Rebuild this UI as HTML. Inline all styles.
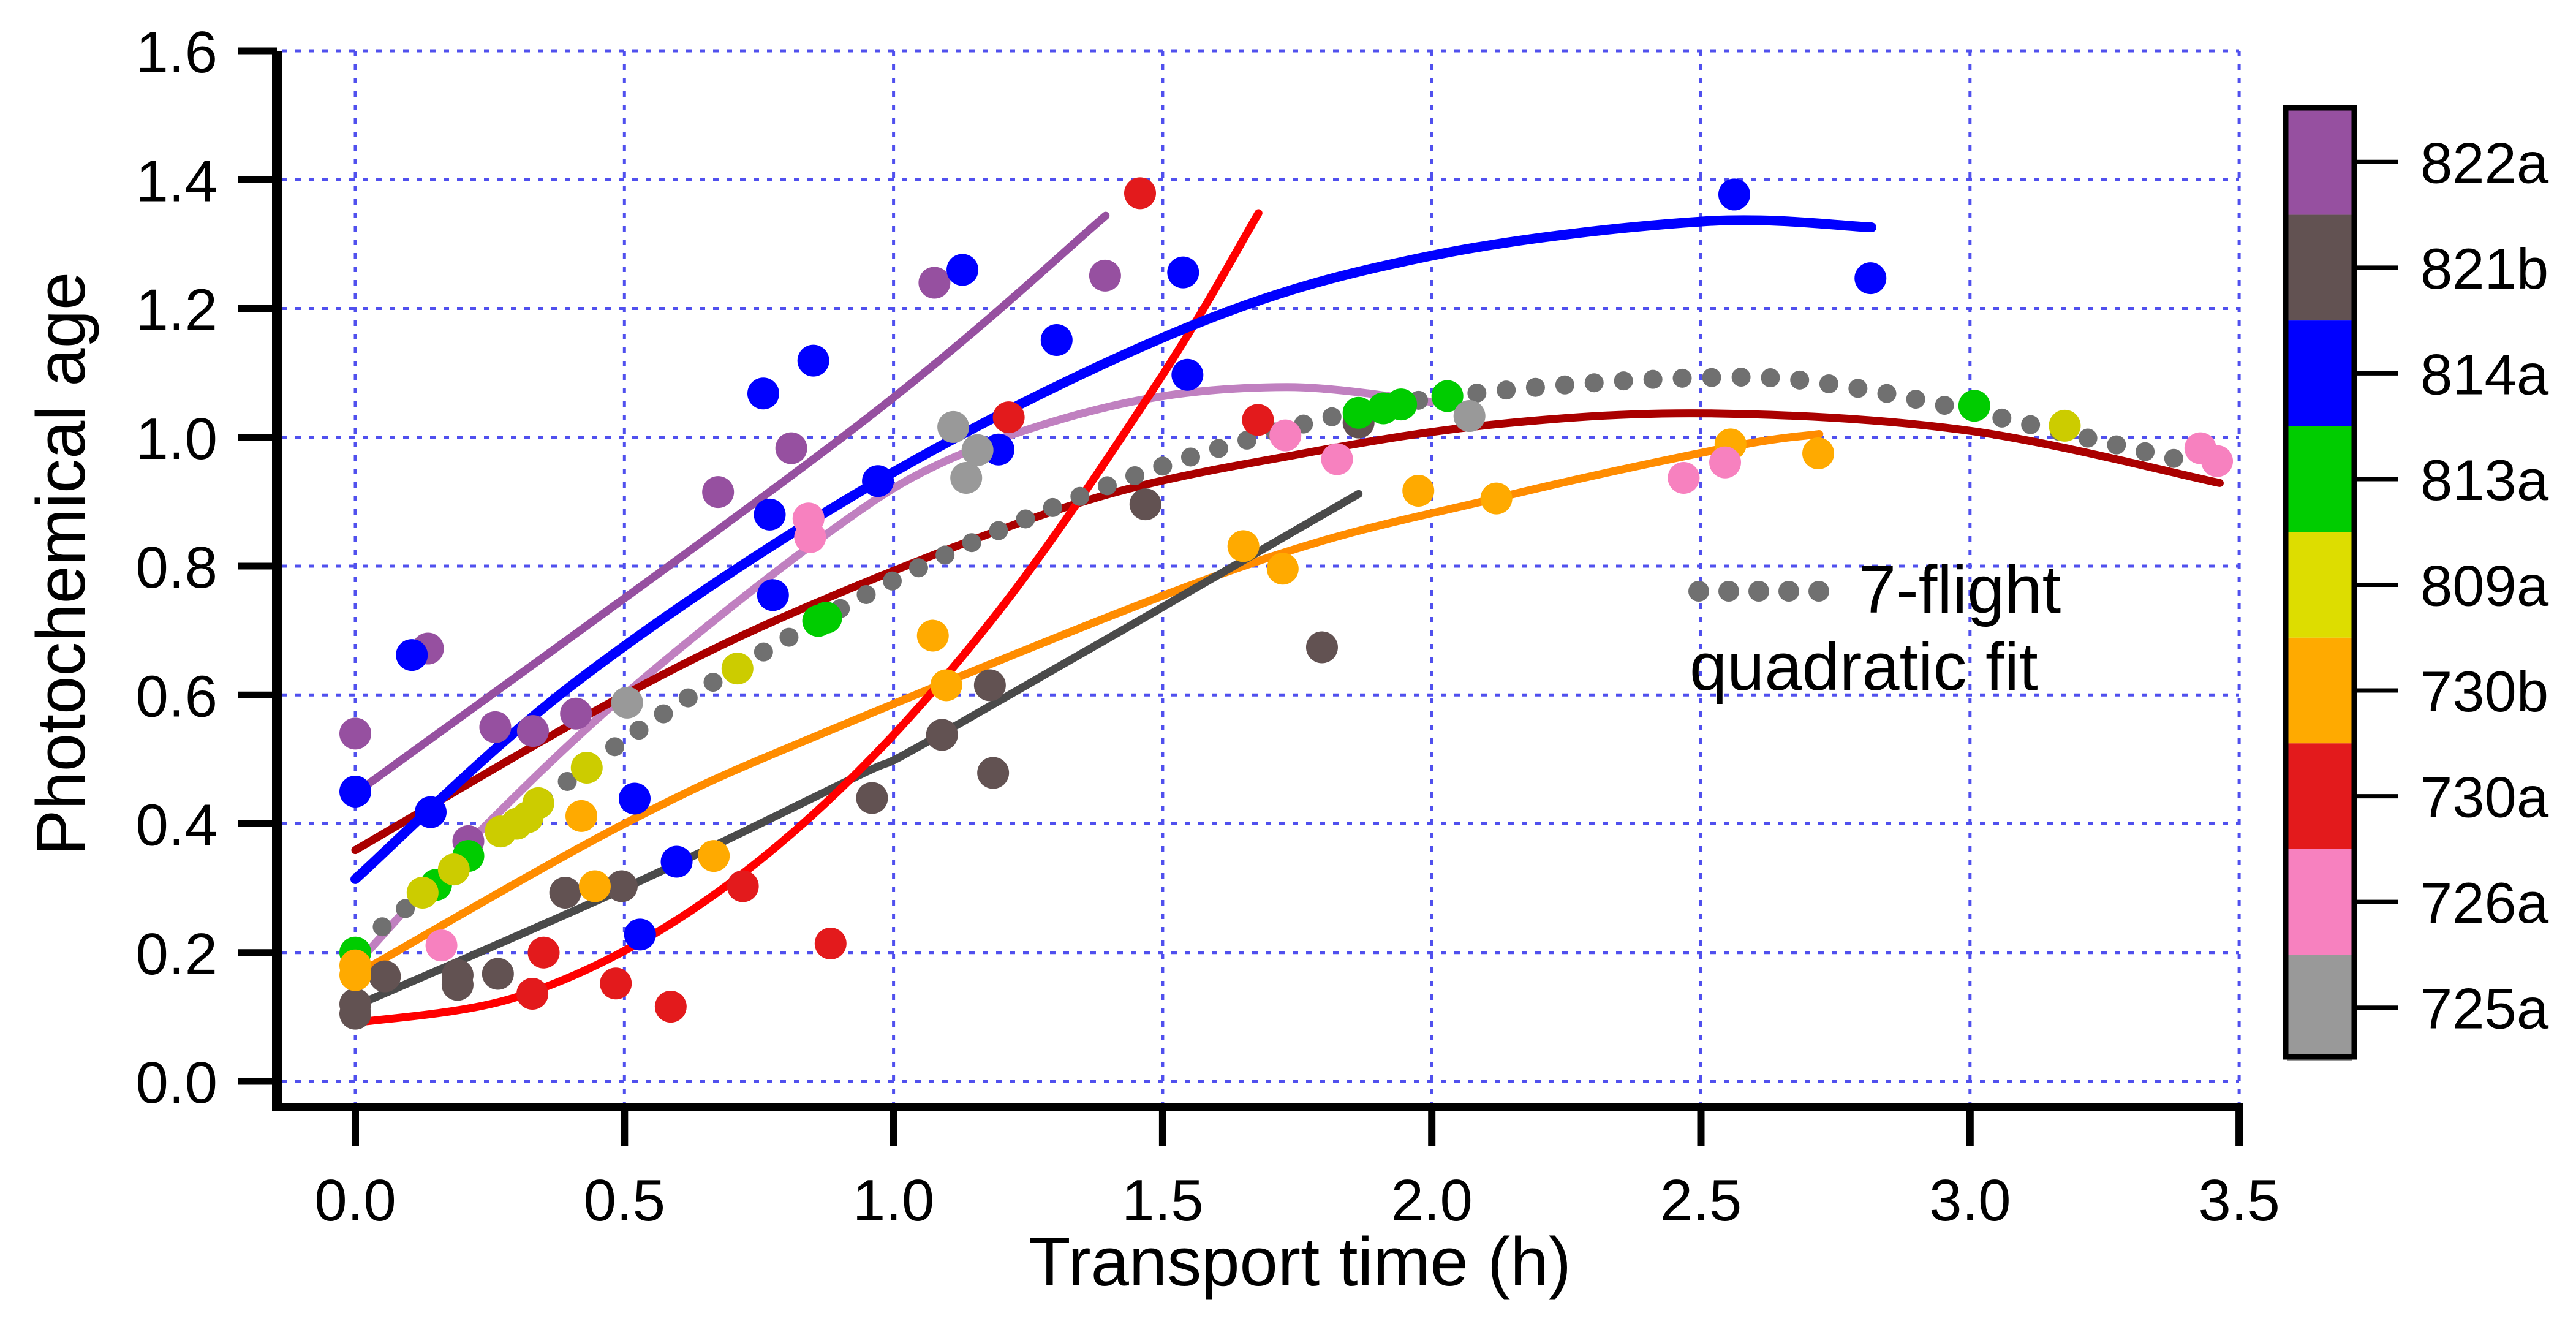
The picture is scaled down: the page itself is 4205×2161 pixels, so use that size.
<!DOCTYPE html>
<html><head><meta charset="utf-8"><style>
html,body{margin:0;padding:0;background:#fff;}
svg{display:block;font-family:"Liberation Sans",Arial,sans-serif;}
</style></head><body>
<svg id="chart" xmlns="http://www.w3.org/2000/svg" width="4205" height="2161" viewBox="0 0 4205 2161">
<g id="grid"></g>
<g id="fits"></g>
<g id="points"></g>
<g id="axes"></g>
<text x="0" y="0" transform="translate(138,920) rotate(-90)" text-anchor="middle" font-size="112">Photochemical age</text>
<text x="2122" y="2098" text-anchor="middle" font-size="112">Transport time (h)</text>
<g>
<g id="legdots"></g>
<text x="3034" y="1000" font-size="110">7-flight</text>
<text x="2758" y="1126" font-size="110">quadratic fit</text>
</g>
<g id="colorbar"></g>
</svg>
<script>
const NS="http://www.w3.org/2000/svg";
const xTicks=[0,0.5,1.0,1.5,2.0,2.5,3.0,3.5];
const xTickLabels=["0.0","0.5","1.0","1.5","2.0","2.5","3.0","3.5"];
const yTicks=[0,0.2,0.4,0.6,0.8,1.0,1.2,1.4,1.6];
const yTickLabels=["0.0","0.2","0.4","0.6","0.8","1.0","1.2","1.4","1.6"];
const flights=["822a","821b","814a","813a","809a","730b","730a","726a","725a"];
const flightColors=["#9650a0","#625252","#0000ff","#00cc00","#dddd00","#ffaa00","#e31a1c","#f781bf","#999999"];
const pointColors=["#9650a0","#625252","#0000ff","#00cc00","#cccc00","#ffaa00","#e31a1c","#f781bf","#999999"];
const t822a=[0,0.135,0.21,0.26,0.33,0.41,0.674,0.81,1.076,1.393];
const v822a=[0.54,0.672,0.373,0.55,0.544,0.571,0.915,0.983,1.24,1.251];
const t821b=[0,0,0.055,0.19,0.19,0.265,0.39,0.495,0.96,1.09,1.179,1.185,1.468,1.796,1.864];
const v821b=[0.12,0.105,0.163,0.165,0.15,0.167,0.293,0.303,0.44,0.538,0.615,0.479,0.896,0.674,1.023];
const t814a=[0,0.105,0.14,0.519,0.529,0.597,0.758,0.77,0.776,0.851,0.971,1.128,1.195,1.303,1.538,1.546,2.562,2.815];
const v814a=[0.45,0.662,0.418,0.439,0.228,0.341,1.068,0.88,0.755,1.119,0.932,1.26,0.981,1.151,1.256,1.097,1.377,1.247];
const t813a=[0,0.15,0.21,0.86,0.875,1.864,1.91,1.943,2.029,3.008];
const v813a=[0.2,0.305,0.35,0.715,0.72,1.038,1.045,1.051,1.064,1.049];
const t809a=[0.125,0.183,0.27,0.30,0.32,0.34,0.43,0.71,3.176];
const v809a=[0.293,0.329,0.388,0.40,0.41,0.432,0.487,0.641,1.018];
const t730b=[0,0,0.42,0.445,0.666,1.073,1.098,1.65,1.723,1.975,2.12,2.555,2.718];
const v730b=[0.18,0.165,0.412,0.303,0.35,0.692,0.615,0.831,0.796,0.917,0.905,0.989,0.975];
const t730a=[0.329,0.35,0.484,0.586,0.72,0.883,1.214,1.458,1.677];
const v730a=[0.136,0.2,0.152,0.116,0.303,0.214,1.031,1.379,1.027];
const t726a=[0.16,0.842,0.845,1.728,1.824,2.468,2.545,3.428,3.459];
const v726a=[0.211,0.874,0.845,1.003,0.966,0.937,0.961,0.983,0.963];
const t725a=[0.505,1.111,1.135,1.156,2.07];
const v725a=[0.588,1.016,0.937,0.98,1.033];
const fitPurpleT=[0,0.933,1.394];
const fitPurpleV=[0.447,1.018,1.344];
const fitBlueT=[0,0.41,0.971,1.547,1.994,2.5,2.817];
const fitBlueV=[0.314,0.62,0.932,1.171,1.281,1.335,1.326];
const fitOrchidT=[0,0.21,0.5,0.876,1.115,1.435,1.73,2.0];
const fitOrchidV=[0.18,0.37,0.6,0.85,0.97,1.054,1.078,1.055];
const fitDarkRedT=[0,0.5,0.876,1.356,1.755,2.128,2.525,3.0,3.464];
const fitDarkRedV=[0.359,0.6,0.75,0.901,0.974,1.021,1.037,1.01,0.929];
const fitRedT=[0,0.3,0.6,0.9,1.2,1.5,1.678];
const fitRedV=[0.091,0.131,0.252,0.453,0.735,1.097,1.348];
const fitDarkGrayT=[0,0.5,0.933,1.09,1.864];
const fitDarkGrayV=[0.117,0.30,0.474,0.54,0.912];
const fitOrangeT=[0,0.5,0.876,1.65,2.128,2.555,2.72];
const fitOrangeV=[0.165,0.40,0.543,0.80,0.907,0.985,1.005];
const fit7T=[0.05,0.5,0.934,1.319,1.65,1.98,2.478,2.806,3.411];
const fit7V=[0.24,0.53,0.749,0.899,0.994,1.058,1.092,1.074,0.961];

const X=t=>580+t*878.6;
const Y=v=>1765-v*1051.25;
function mk(tag,attrs,parent){const e=document.createElementNS(NS,tag);for(const k in attrs)e.setAttribute(k,attrs[k]);parent.appendChild(e);return e;}
const grid=document.getElementById('grid'),axes=document.getElementById('axes'),fits=document.getElementById('fits'),pts=document.getElementById('points');
xTicks.forEach((t,i)=>{
 const g=mk('line',{x1:X(t),x2:X(t),y1:83,y2:1800,stroke:'#5050ee','stroke-width':5,'stroke-dasharray':'9 13'},grid);
 
 
 const tk=mk('line',{x1:X(t),x2:X(t),y1:1807,y2:1870,stroke:'#000','stroke-width':12},axes);
 
 
 const lb=mk('text',{x:X(t),y:1992,'text-anchor':'middle','font-size':96},axes);
 lb.textContent=xTickLabels[i];
 
 
});
yTicks.forEach((v,i)=>{
 const g=mk('line',{x1:460,x2:3655,y1:Y(v),y2:Y(v),stroke:'#5050ee','stroke-width':5,'stroke-dasharray':'9 13'},grid);
 
 
 const tk=mk('line',{x1:388,x2:452,y1:Y(v),y2:Y(v),stroke:'#000','stroke-width':11},axes);
 
 
 const lb=mk('text',{x:355,y:Y(v)+35,'text-anchor':'end','font-size':96},axes);
 lb.textContent=yTickLabels[i];
 
 
});
const ya=mk('line',{x1:452,x2:452,y1:83,y2:1814,stroke:'#000','stroke-width':16},axes);


const xa=mk('line',{x1:444,x2:3661,y1:1807,y2:1807,stroke:'#000','stroke-width':14},axes);



function smoothPath(T,V){
 const p=T.map((t,i)=>[X(t),Y(V[i])]);
 if(p.length<3){return 'M'+p[0]+' L'+p[1];}
 let d='M'+p[0][0]+','+p[0][1];
 for(let i=0;i<p.length-1;i++){
  const p0=p[i-1]||p[i],p1=p[i],p2=p[i+1],p3=p[i+2]||p[i+1];
  const c1=[p1[0]+(p2[0]-p0[0])/6,p1[1]+(p2[1]-p0[1])/6];
  const c2=[p2[0]-(p3[0]-p1[0])/6,p2[1]-(p3[1]-p1[1])/6];
  d+=' C'+c1+' '+c2+' '+p2;
 }
 return d;
}
const fitDefs=[
 [fitPurpleT,fitPurpleV,'#9650a0',13,'fit-822a'],
 [fitOrchidT,fitOrchidV,'#c080c0',13,'fit-726a-light'],
 [fitDarkRedT,fitDarkRedV,'#aa0000',13,'fit-all-darkred'],
 [fitOrangeT,fitOrangeV,'#ff8c00',13,'fit-730b'],
 [fitDarkGrayT,fitDarkGrayV,'#4a4a4a',13,'fit-821b'],
 [fitRedT,fitRedV,'#ff0000',13,'fit-730a'],
 [fitBlueT,fitBlueV,'#0000ff',16,'fit-814a']
];
fitDefs.forEach(f=>{
 const e=mk('path',{d:smoothPath(f[0],f[1]),fill:'none',stroke:f[2],'stroke-width':f[3],'stroke-linecap':'round'},fits);
 
 
});
const f7=mk('path',{d:smoothPath(fit7T,fit7V),fill:'none',stroke:'#707070','stroke-width':31,'stroke-linecap':'round','stroke-dasharray':'0 48'},fits);



const series=[[t822a,v822a],[t821b,v821b],[t814a,v814a],[t813a,v813a],[t809a,v809a],[t730b,v730b],[t730a,v730a],[t726a,v726a],[t725a,v725a]];
series.forEach((s,k)=>{
 s[0].forEach((t,i)=>{
  const c=mk('circle',{cx:X(t),cy:Y(s[1][i]),r:26,fill:pointColors[k]},pts);
  
  
 });
});
const ld=document.getElementById('legdots');
[0,1,2,3,4].forEach(i=>{
 const c=mk('circle',{cx:2773+i*49,cy:965,r:17,fill:'#707070'},ld);
 
 
});
const cb=document.getElementById('colorbar');
const segH=(1727-174)/9;
flights.forEach((f,i)=>{
 const r=mk('rect',{x:3734,y:178+i*segH,width:106,height:segH,fill:flightColors[i]},cb);
 
 
 const cy=178+i*segH+segH/2;
 const tk=mk('line',{x1:3846,x2:3915,y1:cy,y2:cy,stroke:'#000','stroke-width':7},cb);
 
 
 const tx=mk('text',{x:3951,y:cy+34,'font-size':94},cb);
 tx.textContent=f;
 
 
});
const fr=mk('rect',{x:3731,y:176,width:112,height:1549,fill:'none',stroke:'#000','stroke-width':9},cb);


</script>
</body></html>
